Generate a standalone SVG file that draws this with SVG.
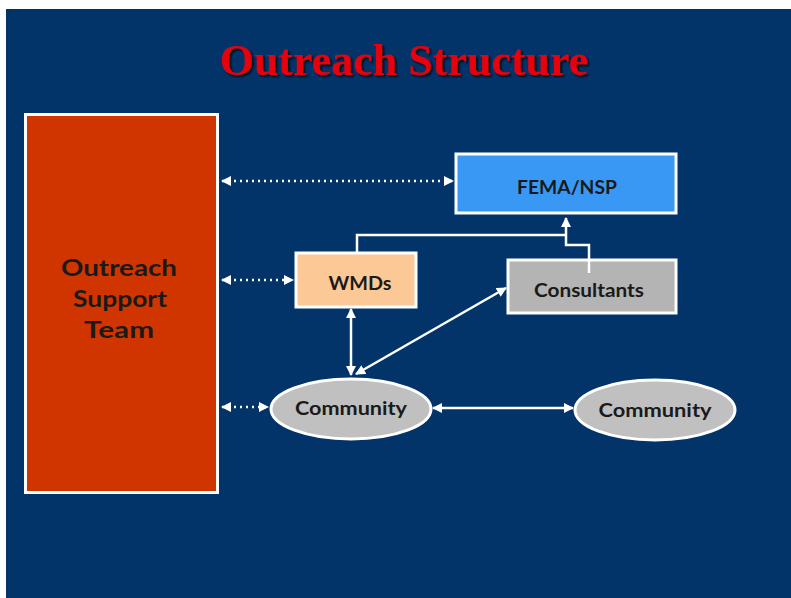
<svg xmlns="http://www.w3.org/2000/svg" width="791" height="598" viewBox="0 0 791 598">
  <style>
    .lbl { font-family: Lato, "Open Sans", "Liberation Sans", sans-serif; font-weight: bold; fill: #1a1a1a; text-anchor: middle; }
    .box { stroke: #ffffff; stroke-width: 3; }
    .solid { stroke: #ffffff; stroke-width: 2.5; fill: none; }
    .dots { stroke: #ffffff; stroke-width: 2.5; fill: none; stroke-dasharray: 2 4; }
  </style>
  <defs>
    <marker id="head" viewBox="0 0 10 10" refX="9" refY="5" markerWidth="4" markerHeight="4" orient="auto-start-reverse" markerUnits="strokeWidth">
      <path d="M0,0 L10,5 L0,10 z" fill="#ffffff"/>
    </marker>
    <filter id="shadow" x="-5%" y="-20%" width="110%" height="140%">
      <feDropShadow dx="2" dy="2" stdDeviation="1" flood-color="#000000" flood-opacity="0.8"/>
    </filter>
  </defs>

  <!-- page and slide background -->
  <rect x="0" y="0" width="791" height="598" fill="#ffffff"/>
  <rect x="6" y="9" width="785" height="589" fill="#02346a"/>

  <!-- title -->
  <text x="404" y="75" font-family="'Liberation Serif', 'Times New Roman', serif" font-weight="bold" font-size="44" fill="#e8000b" text-anchor="middle" filter="url(#shadow)">Outreach Structure</text>

  <!-- connectors -->
  <g id="connectors">
    <line class="dots" x1="222" y1="181" x2="453" y2="181" marker-start="url(#head)" marker-end="url(#head)"/>
    <line class="dots" x1="222" y1="280" x2="293" y2="280" marker-start="url(#head)" marker-end="url(#head)"/>
    <line class="dots" x1="222" y1="407" x2="268" y2="407" marker-start="url(#head)" marker-end="url(#head)"/>
    <polyline class="solid" points="357,253 357,235 566,235"/>
    <polyline class="solid" points="589,273 589,245 566,245 566,218" marker-end="url(#head)"/>
    <line class="solid" x1="351" y1="309" x2="351" y2="375" marker-start="url(#head)" marker-end="url(#head)"/>
    <line class="solid" x1="356" y1="374" x2="506" y2="288" marker-start="url(#head)" marker-end="url(#head)"/>
    <line class="solid" x1="433" y1="408" x2="573" y2="408" marker-start="url(#head)" marker-end="url(#head)"/>
  </g>

  <g id="outreach-support-team">
    <rect class="box" x="25.5" y="114.5" width="192" height="378" fill="#d03500"/>
    <text class="lbl" font-size="22" x="119" y="276" textLength="116" lengthAdjust="spacingAndGlyphs">Outreach</text>
    <text class="lbl" font-size="22" x="120" y="307" textLength="94" lengthAdjust="spacingAndGlyphs">Support</text>
    <text class="lbl" font-size="22" x="119" y="338" textLength="70" lengthAdjust="spacingAndGlyphs">Team</text>
  </g>

  <g id="fema-nsp">
    <rect class="box" x="456" y="154" width="220" height="59" fill="#3898f4"/>
    <text class="lbl" font-size="19" x="567" y="194" textLength="100" lengthAdjust="spacingAndGlyphs">FEMA/NSP</text>
  </g>

  <g id="wmds">
    <rect class="box" x="296" y="253" width="120" height="54" fill="#fcc996"/>
    <text class="lbl" font-size="19" x="360" y="290" textLength="63" lengthAdjust="spacingAndGlyphs">WMDs</text>
  </g>

  <g id="consultants">
    <rect class="box" x="508" y="260" width="168" height="53" fill="#b4b4b4"/>
    <polyline class="solid" points="589,273 589,260"/>
    <text class="lbl" font-size="19" x="589" y="297" textLength="110" lengthAdjust="spacingAndGlyphs">Consultants</text>
  </g>

  <g id="community-1">
    <ellipse class="box" cx="351" cy="409" rx="80" ry="30" fill="#c0c0c0"/>
    <text class="lbl" font-size="19" x="351" y="415" textLength="112" lengthAdjust="spacingAndGlyphs">Community</text>
  </g>

  <g id="community-2">
    <ellipse class="box" cx="655" cy="410" rx="80" ry="30" fill="#c0c0c0"/>
    <text class="lbl" font-size="19" x="655" y="417" textLength="113" lengthAdjust="spacingAndGlyphs">Community</text>
  </g>
</svg>
